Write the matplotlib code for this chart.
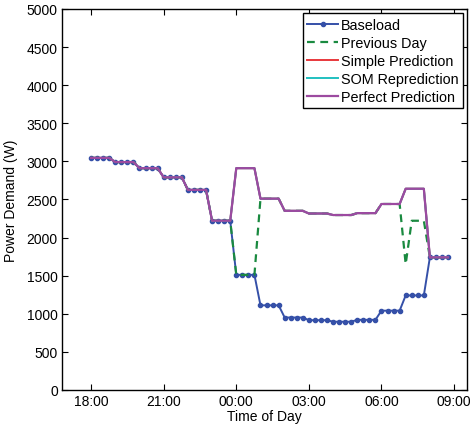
import matplotlib
matplotlib.use("Agg")
import matplotlib.pyplot as plt
import matplotlib.dates as mdates
import pandas as pd

plt.rcParams['font.family'] = ['Liberation Sans', 'DejaVu Sans']

# 15-minute samples from 18:00 to 08:45 (next day)
times = pd.date_range("2012-01-01 18:00", "2012-01-02 08:45", freq="15min")

baseload = [3045, 3045, 3045, 3045,  # 18
            2990, 2990, 2990, 2990,  # 19
            2910, 2910, 2910, 2910,  # 20
            2790, 2790, 2790, 2790,  # 21
            2625, 2625, 2625, 2625,  # 22
            2220, 2220, 2220, 2220,  # 23
            1510, 1510, 1510, 1510,  # 00
            1110, 1110, 1110, 1110,  # 01
            950, 950, 950, 950,      # 02
            915, 915, 915, 915,      # 03
            895, 895, 895, 895,      # 04
            920, 920, 920, 920,      # 05
            1040, 1040, 1040, 1040,  # 06
            1240, 1240, 1240, 1240,  # 07
            1740, 1740, 1740, 1740]  # 08

previous_day = [3045, 3045, 3045, 3045,
                2990, 2990, 2990, 2990,
                2910, 2910, 2910, 2910,
                2790, 2790, 2790, 2790,
                2625, 2625, 2625, 2625,
                2220, 2220, 2220, 2220,
                1510, 1510, 1510, 1510,
                2510, 2510, 2510, 2510,
                2350, 2350, 2350, 2350,
                2315, 2315, 2315, 2315,
                2295, 2295, 2295, 2295,
                2320, 2320, 2320, 2320,
                2440, 2440, 2440, 2440,
                1650, 2220, 2220, 2220,
                1740, 1740, 1740, 1740]

perfect = [3045, 3045, 3045, 3045,
           2990, 2990, 2990, 2990,
           2910, 2910, 2910, 2910,
           2790, 2790, 2790, 2790,
           2625, 2625, 2625, 2625,
           2220, 2220, 2220, 2220,
           2910, 2910, 2910, 2910,
           2510, 2510, 2510, 2510,
           2350, 2350, 2350, 2350,
           2315, 2315, 2315, 2315,
           2295, 2295, 2295, 2295,
           2320, 2320, 2320, 2320,
           2440, 2440, 2440, 2440,
           2640, 2640, 2640, 2640,
           1740, 1740, 1740, 1740]

simple_prediction = list(perfect)
som_reprediction = list(perfect)

yticks = [0, 500, 1000, 1500, 2000, 2500, 3000, 3500, 4000, 4500, 5000]
xtick_times = pd.to_datetime(["2012-01-01 18:00", "2012-01-01 21:00", "2012-01-02 00:00",
                              "2012-01-02 03:00", "2012-01-02 06:00", "2012-01-02 09:00"])

fig = plt.figure(figsize=(4.70, 4.31), dpi=100)
ax = fig.add_axes([0.132, 0.093, 0.8616, 0.884])

ax.plot(times, baseload, color='#3550a8', lw=1.4, marker='o', ms=3.0,
        mec='#3550a8', mfc='#3550a8', label='Baseload', zorder=2)
ax.plot(times, previous_day, color='#1a8a40', lw=1.6, ls=(0, (3.5, 2.5)),
        label='Previous Day', zorder=3)
ax.plot(times, simple_prediction, color='#e8383c', lw=1.4, label='Simple Prediction', zorder=4)
ax.plot(times, som_reprediction, color='#20c0c0', lw=1.4, label='SOM Reprediction', zorder=5)
ax.plot(times, perfect, color='#9c4aa0', lw=1.6, label='Perfect Prediction', zorder=6)

ax.set_xlim(pd.Timestamp("2012-01-01 16:48"), pd.Timestamp("2012-01-02 09:32"))
ax.set_ylim(0, 5000)
ax.set_yticks(yticks)
ax.set_xticks(xtick_times)
ax.xaxis.set_major_formatter(mdates.DateFormatter('%H:%M'))

ax.tick_params(direction='in', top=True, right=True, length=4, width=0.8,
               labelsize=10, pad=3)
for s in ax.spines.values():
    s.set_linewidth(1.0)

ax.set_xlabel('Time of Day', fontsize=10, labelpad=1)
ax.set_ylabel('Power Demand (W)', fontsize=10, labelpad=6)

leg = ax.legend(loc='upper right', fontsize=10.4, frameon=True, fancybox=False,
                edgecolor='black', framealpha=1, borderaxespad=0.3,
                handlelength=2.1, handletextpad=0.2, labelspacing=0.28,
                borderpad=0.3)
leg.get_frame().set_linewidth(1.0)

fig.savefig('out.png', dpi=100)
